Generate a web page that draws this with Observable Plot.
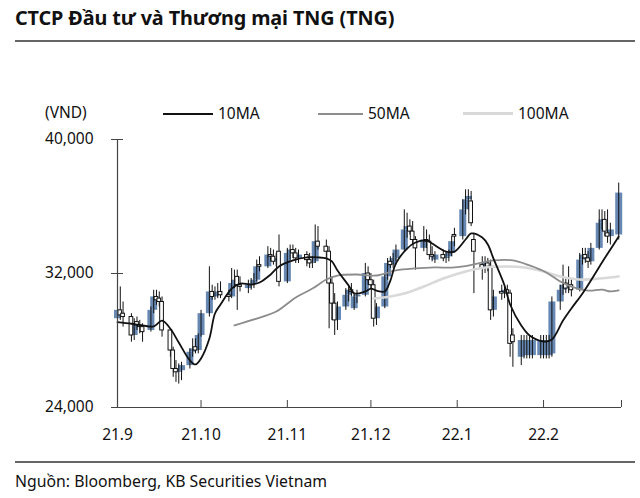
<!DOCTYPE html>
<html><head><meta charset="utf-8">
<script src="https://cdn.jsdelivr.net/npm/d3@7"></script>
<script src="https://cdn.jsdelivr.net/npm/@observablehq/plot@0.6"></script>
<style>
body{margin:0;background:#fff;}
#wrap{position:relative;width:640px;height:498px;font-family:"Noto Sans",sans-serif;color:#111;overflow:hidden;background:#fff}
.title{position:absolute;left:15px;top:4px;font-size:19.8px;font-weight:bold;letter-spacing:-0.1px;white-space:nowrap}
.hr{position:absolute;left:15px;width:620px;height:2px;background:#666}
.lab{position:absolute;font-size:15.5px;white-space:nowrap;line-height:18px}
.sw{position:absolute;height:0}
#chart{position:absolute;left:0;top:125px}
.src{position:absolute;left:15px;top:470px;font-size:15.8px;white-space:nowrap}
</style></head>
<body>
<div id="wrap">
  <div class="title">CTCP Đầu tư và Thương mại TNG (TNG)</div>
  <div class="hr" style="top:40px"></div>
  <div class="lab" style="left:45px;top:103px">(VND)</div>
  <div class="sw" style="left:163px;top:113px;width:50px;border-top:2px solid #111"></div>
  <div class="lab" style="left:218px;top:104px">10MA</div>
  <div class="sw" style="left:318px;top:113px;width:45px;border-top:2px solid #8c8c8c"></div>
  <div class="lab" style="left:368px;top:104px">50MA</div>
  <div class="sw" style="left:463px;top:112px;width:50px;border-top:3px solid #d9d9d9"></div>
  <div class="lab" style="left:518px;top:104px">100MA</div>
  <div id="chart"></div>
  <div class="hr" style="top:461px"></div>
  <div class="src">Nguồn: Bloomberg, KB Securities Vietnam</div>
</div>
<script>
const dates = [
"2021-09-01","2021-09-02","2021-09-03","2021-09-06","2021-09-07","2021-09-08","2021-09-09","2021-09-10",
"2021-09-13","2021-09-14","2021-09-15","2021-09-16","2021-09-17","2021-09-20","2021-09-21","2021-09-22",
"2021-09-23","2021-09-24","2021-09-27","2021-09-28","2021-09-29","2021-09-30",
"2021-10-01","2021-10-04","2021-10-05","2021-10-06","2021-10-07","2021-10-08","2021-10-11","2021-10-12",
"2021-10-13","2021-10-14","2021-10-15","2021-10-18","2021-10-19","2021-10-20","2021-10-21","2021-10-22",
"2021-10-25","2021-10-26","2021-10-27","2021-10-28","2021-10-29",
"2021-11-01","2021-11-02","2021-11-03","2021-11-04","2021-11-05","2021-11-08","2021-11-09","2021-11-10",
"2021-11-11","2021-11-12","2021-11-15","2021-11-16","2021-11-17","2021-11-18","2021-11-19","2021-11-22",
"2021-11-23","2021-11-24","2021-11-25","2021-11-26","2021-11-29","2021-11-30",
"2021-12-01","2021-12-02","2021-12-03","2021-12-06","2021-12-07","2021-12-08","2021-12-09","2021-12-10",
"2021-12-13","2021-12-14","2021-12-15","2021-12-16","2021-12-17","2021-12-20","2021-12-21","2021-12-22",
"2021-12-23","2021-12-24","2021-12-27","2021-12-28","2021-12-29","2021-12-30","2021-12-31",
"2022-01-03","2022-01-04","2022-01-05","2022-01-06","2022-01-07","2022-01-10","2022-01-11","2022-01-12",
"2022-01-13","2022-01-14","2022-01-17","2022-01-18","2022-01-19","2022-01-20","2022-01-21","2022-01-24",
"2022-01-25","2022-01-26","2022-01-27","2022-01-28","2022-01-31",
"2022-02-01","2022-02-02","2022-02-03","2022-02-04","2022-02-07","2022-02-08","2022-02-09","2022-02-10",
"2022-02-11","2022-02-14","2022-02-15","2022-02-16","2022-02-17","2022-02-18","2022-02-21","2022-02-22",
"2022-02-23","2022-02-24","2022-02-25","2022-02-28"];

const open = [
29300,29800,29600,29400,28300,29100,28900,28800,28600,29800,30600,30500,30300,28600,27400,26300,26100,26200,26500,27300,27600,27400,
28300,29600,30900,30600,30800,30900,30700,30600,31400,31800,31300,31100,31300,31400,31600,32500,32400,33100,33000,32700,33300,
31500,33200,33400,33200,32900,33100,32800,32600,32700,33900,33600,33300,31400,30200,29200,30000,30700,31000,29900,30600,30700,32000,
31600,31300,29300,30000,31800,32700,32500,32900,33400,34600,34800,34500,34000,33500,34000,33900,33100,32800,33100,32900,33000,33200,34300,
34200,35800,36400,36300,34000,32500,32300,32600,32400,29800,30900,30800,31000,30800,28300,27000,27100,27100,27100,27100,27100,
27100,27100,27100,27200,30300,31000,31400,31100,31300,31000,32800,33100,32900,32700,33500,35000,35200,34400,34200,34300];

const high = [
30000,31200,30300,29600,29300,29400,29200,29000,30000,31000,31000,30900,30600,28700,27600,26800,26600,26700,27500,28100,28100,28400,
29800,32400,31300,31200,31400,31500,31000,32300,32200,32200,31800,31600,31700,32000,32800,33000,33600,33500,33400,33200,34300,
33500,33700,33700,33500,33400,33300,33200,33000,34900,34800,34000,33600,31800,30800,30300,31100,31300,31400,30800,31000,32600,32400,
32000,31600,30200,32000,32900,33000,33200,33700,35800,35600,35200,35100,34200,34800,34600,34300,33600,33300,33400,33300,33400,34200,34700,
36400,37000,37000,36900,34400,33000,33000,32900,32800,31000,31300,31200,31300,31000,28700,28300,28300,28300,28300,28300,28300,
28300,28300,28300,30600,31300,32500,31700,32400,31700,33200,33500,33500,33300,33800,35800,35800,35700,35800,35000,37400];

const low = [
29000,29200,28800,27900,28000,28600,28400,27900,28500,29600,30100,30000,28200,27000,25800,25500,25400,25600,26300,27000,27200,27200,
28200,29400,30400,30400,30500,30500,30300,30500,31100,29800,30900,30800,31000,31100,31500,32100,32300,32700,32500,32400,31200,
31400,32800,32900,32600,32600,32400,32300,32300,32600,33400,32900,28700,29200,28300,28600,29800,30300,30600,29800,30200,30600,31300,
31000,28800,28900,29900,31600,32300,32300,32700,33300,34100,34300,33700,32200,33300,33500,32800,32700,32600,32700,32600,32700,33000,33600,
34000,35500,35800,34800,30800,31600,32000,32100,29200,29400,30400,30500,30600,27000,26400,26500,26900,26900,26900,26900,26900,
26900,26900,26900,27000,29800,30700,30800,30800,30600,30900,32500,32600,32300,32500,33400,34600,34200,33800,33700,34000];

const close = [
29800,29500,29400,28300,29000,28900,28800,28500,29800,30600,30400,30300,28600,27400,26300,26100,26200,26500,27300,27500,27400,28300,
29600,30900,30600,30800,30900,30700,30600,31400,31600,31300,31200,31300,31400,31600,32400,32400,33100,33000,32700,32900,31500,
33200,33400,33200,32900,33100,32800,32600,32700,33900,33600,33300,31400,30200,29200,30000,30700,31000,30900,30600,30700,32000,31600,
31300,29300,30000,31800,32600,32500,32900,33400,34600,34800,34500,34000,33500,34000,33900,33100,33000,33100,32900,33000,33200,33900,34200,
35800,36400,36600,35000,33300,32300,32600,32400,29800,30600,30800,31000,30800,27800,27900,28000,28000,28000,28000,28000,28000,
28000,28000,28000,30300,31000,31300,31100,31200,31000,32800,33100,32900,32700,33500,35000,35200,34500,34200,34600,36800];

const ma10 = [
["2021-09-01",29100],["2021-09-06",29000],["2021-09-10",28900],["2021-09-14",28840],["2021-09-17",29190],
["2021-09-20",28700],["2021-09-23",27880],["2021-09-27",26810],["2021-09-29",26570],["2021-10-01",26930],
["2021-10-04",28120],["2021-10-06",29610],["2021-10-08",30150],["2021-10-12",31100],["2021-10-15",31400],
["2021-10-19",31340],["2021-10-22",31460],["2021-10-26",31940],["2021-10-29",32420],["2021-11-03",32780],
["2021-11-08",32960],["2021-11-12",32960],["2021-11-15",32900],["2021-11-17",32720],["2021-11-19",32180],
["2021-11-23",31280],["2021-11-25",30810],["2021-11-29",30930],["2021-12-01",31100],["2021-12-03",30980],
["2021-12-06",30930],["2021-12-08",31580],["2021-12-10",32600],["2021-12-14",33490],["2021-12-17",33850],
["2021-12-21",33970],["2021-12-23",33790],["2021-12-28",33310],["2021-12-31",33310],["2022-01-04",34030],
["2022-01-06",34390],["2022-01-10",34150],["2022-01-12",33730],["2022-01-14",32900],["2022-01-18",31280],
["2022-01-20",30150],["2022-01-24",28900],["2022-01-27",28300],["2022-02-01",27940],["2022-02-04",28060],
["2022-02-08",29190],["2022-02-11",29910],["2022-02-15",30810],["2022-02-18",31580],["2022-02-22",32660],
["2022-02-25",33430],["2022-02-28",34210]];

const ma50 = [
["2021-10-13",28900],["2021-10-21",29310],["2021-10-28",29730],["2021-11-04",30570],["2021-11-10",31100],
["2021-11-15",31640],["2021-11-19",31880],["2021-11-26",31940],["2021-12-03",31880],["2021-12-10",32180],
["2021-12-17",32300],["2021-12-24",32360],["2021-12-31",32360],["2022-01-07",32540],["2022-01-14",32780],
["2022-01-21",32780],["2022-01-27",32480],["2022-02-02",32060],["2022-02-07",31520],["2022-02-11",31220],
["2022-02-17",30980],["2022-02-22",31040],["2022-02-25",30930],["2022-02-28",30990]];

const ma100 = [
["2021-12-02",30510],["2021-12-08",30630],["2021-12-13",30810],["2021-12-20",31220],["2021-12-27",31700],
["2022-01-04",32120],["2022-01-11",32360],["2022-01-18",32420],["2022-01-25",32360],["2022-02-01",32120],
["2022-02-07",31820],["2022-02-14",31640],["2022-02-21",31700],["2022-02-28",31820]];

const yTicks = [24000, 32000, 40000];
const monthTicks = ["2021-09-01","2021-10-01","2021-11-01","2021-12-01","2022-01-01","2022-02-01"];
const axisEnd = "2022-03-01";

const P = d => new Date(d + "T00:00:00Z");
const candles = dates.map((d, i) => ({date: P(d), open: open[i], high: high[i], low: low[i], close: close[i]}));
const up = candles.filter(d => d.close >= d.open);
const down = candles.filter(d => d.close < d.open);
const toPts = arr => arr.map(([d, v]) => ({date: P(d), v}));
const x0 = P(monthTicks[0]);
const x1 = P(axisEnd);
const HALF = 16 * 3600 * 1000;
const fmtMonth = d => `${d.getUTCFullYear() % 100}.${d.getUTCMonth() + 1}`;

const chart = Plot.plot({
  width: 640, height: 325,
  marginLeft: 117, marginRight: 19, marginTop: 14, marginBottom: 43,
  style: {fontFamily: "Noto Sans, sans-serif", fontSize: "15.5px", color: "#111", background: "transparent"},
  x: {type: "utc", domain: [x0, x1]},
  y: {domain: [24000, 40000]},
  marks: [
    Plot.ruleX(up, {x: "date", y1: "open", y2: "close", stroke: "#6688b3", strokeWidth: 7}),
    Plot.ruleX(candles, {x: "date", y1: "low", y2: "high", stroke: "#111", strokeWidth: 1}),
    Plot.rect(down, {x1: d => new Date(+d.date - HALF), x2: d => new Date(+d.date + HALF), y1: "open", y2: "close", fill: "#fff", stroke: "#111", strokeWidth: 1}),
    Plot.line(toPts(ma100), {x: "date", y: "v", stroke: "#d9d9d9", strokeWidth: 2.6, curve: "catmull-rom"}),
    Plot.line(toPts(ma50), {x: "date", y: "v", stroke: "#8c8c8c", strokeWidth: 1.8, curve: "catmull-rom"}),
    Plot.line(toPts(ma10), {x: "date", y: "v", stroke: "#111", strokeWidth: 1.8, curve: "catmull-rom"}),
    Plot.ruleX([x0], {y1: 24000, y2: 40000, stroke: "#444", strokeWidth: 1.2}),
    Plot.ruleY([24000], {stroke: "#444", strokeWidth: 1.2}),
    Plot.axisY({ticks: yTicks, tickSize: 6, tickPadding: 18, tickFormat: d3.format(","), label: null, stroke: "#444"}),
    Plot.axisY({ticks: yTicks, tickSize: -6, tickFormat: () => "", label: null, stroke: "#444"}),
    Plot.axisX({ticks: monthTicks.map(P), tickSize: 0, tickPadding: 21, tickFormat: fmtMonth, label: null}),
    Plot.axisX({ticks: monthTicks.concat([axisEnd]).map(P), tickSize: -7, tickFormat: () => "", label: null, stroke: "#444"})
  ]
});
document.getElementById("chart").appendChild(chart);
</script>
</body></html>
